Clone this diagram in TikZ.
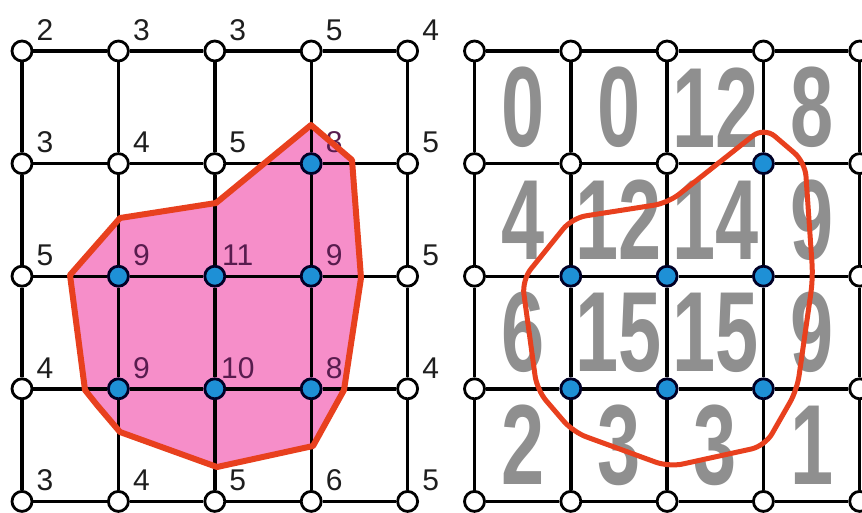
\documentclass[tikz,border=0pt]{standalone}
\usepackage{fontspec}
\setmainfont{Liberation Sans}
\usepackage{graphicx}
\usetikzlibrary{calc}
\definecolor{nodeblue}{RGB}{30,144,214}
\definecolor{pinkfill}{RGB}{246,142,201}
\definecolor{outred}{RGB}{232,64,30}
\definecolor{biggray}{RGB}{143,143,143}
\definecolor{labpurple}{RGB}{88,28,78}
\definecolor{labblack}{RGB}{30,30,30}
\pgfdeclarelayer{bg}
\pgfsetlayers{bg,main}
\begin{document}
\begin{tikzpicture}[x=1pt,y=-1pt,
  gridnode/.style={circle, draw=black, fill=white, line width=2.8pt, minimum size=20pt, inner sep=0pt},
  bluenode/.style={gridnode, fill=nodeblue, draw=black!85!blue},
  gridline/.style={line width=3.4pt, draw=black},
  lab/.style={font=\fontsize{30}{30}\selectfont, text=labblack, inner sep=0pt},
  inlab/.style={lab, text=labpurple},
  bignum/.style={font=\fontsize{114}{114}\selectfont\bfseries, text=biggray, inner sep=0pt},
  outline/.style={draw=outred, line width=6pt, line join=round},
  thinoutline/.style={draw=outred, line width=5pt, rounded corners=14pt}]
\useasboundingbox (0,0) rectangle (862,512);

% ---------- grid nodes ----------
\foreach \i/\j/\s in {1/1/gridnode,2/1/gridnode,3/1/gridnode,4/1/gridnode,5/1/gridnode,
  1/2/gridnode,2/2/gridnode,3/2/gridnode,4/2/bluenode,5/2/gridnode,
  1/3/gridnode,2/3/bluenode,3/3/bluenode,4/3/bluenode,5/3/gridnode,
  1/4/gridnode,2/4/bluenode,3/4/bluenode,4/4/bluenode,5/4/gridnode,
  1/5/gridnode,2/5/gridnode,3/5/gridnode,4/5/gridnode,5/5/gridnode}
  {\node[\s] (L\i\j) at ({22+96.4*(\i-1)},{51+112.6*(\j-1)}) {};
   \node[\s] (R\i\j) at ({474.5+96.3*(\i-1)},{51+112.6*(\j-1)}) {};}

% ---------- pink region ----------
\begin{pgfonlayer}{bg}
\fill[pinkfill] (311,125) -- (352,160) -- (361,278) -- (344,390) -- (313,446) -- (217,467)
  -- (120,432) -- (97,405) -- (85,390) -- (70,275) -- (120,218) -- (216,203) -- cycle;
\end{pgfonlayer}

% ---------- grid lines ----------
\foreach \j in {1,...,5}{
  \foreach \i/\n in {1/2,2/3,3/4,4/5}{
    \draw[gridline] (L\i\j) -- (L\n\j);
    \draw[gridline] (L\j\i) -- (L\j\n);
    \draw[gridline] (R\i\j) -- (R\n\j);
    \draw[gridline] (R\j\i) -- (R\j\n);
  }}

% ---------- big numbers (right) ----------
\foreach \i/\j/\v in {1/1/0,2/1/0,3/1/12,4/1/8,
  1/2/4,2/2/12,3/2/14,4/2/9,
  1/3/6,2/3/15,3/3/15,4/3/9,
  1/4/2,2/4/3,3/4/3,4/4/1}
  {\node[bignum] (N\i\j) at ({474.5+96.3*(\i-0.5)},{51+112.6*(\j-0.5)}) {\scalebox{0.68}[1]{\v}};}

% ---------- labels (left) ----------
\foreach \i/\j/\v/\s in {1/1/2/lab,2/1/3/lab,3/1/3/lab,4/1/5/lab,5/1/4/lab,
  1/2/3/lab,2/2/4/lab,3/2/5/lab,4/2/8/inlab,5/2/5/lab,
  1/3/5/lab,2/3/9/inlab,3/3/11/inlab,4/3/9/inlab,5/3/5/lab,
  1/4/4/lab,2/4/9/inlab,3/4/10/inlab,4/4/8/inlab,5/4/4/lab,
  1/5/3/lab,2/5/4/lab,3/5/5/lab,4/5/6/lab,5/5/5/lab}
  {\node[\s] (T\i\j) at ($(L\i\j)+(23,-21)$) {\v};}

% ---------- outlines ----------
\draw[outline] (311,125) -- (352,160) -- (361,278) -- (344,390) -- (313,446) -- (217,467)
  -- (120,432) -- (97,405) -- (85,390) -- (70,275) -- (120,218) -- (216,203) -- cycle;
\draw[thinoutline] (764,127) -- (805,162) -- (813,278) -- (797,390) -- (765,446) -- (669,467)
  -- (573,432) -- (537,390) -- (522,280) -- (572,218) -- (668,203) -- cycle;
\end{tikzpicture}
\end{document}
